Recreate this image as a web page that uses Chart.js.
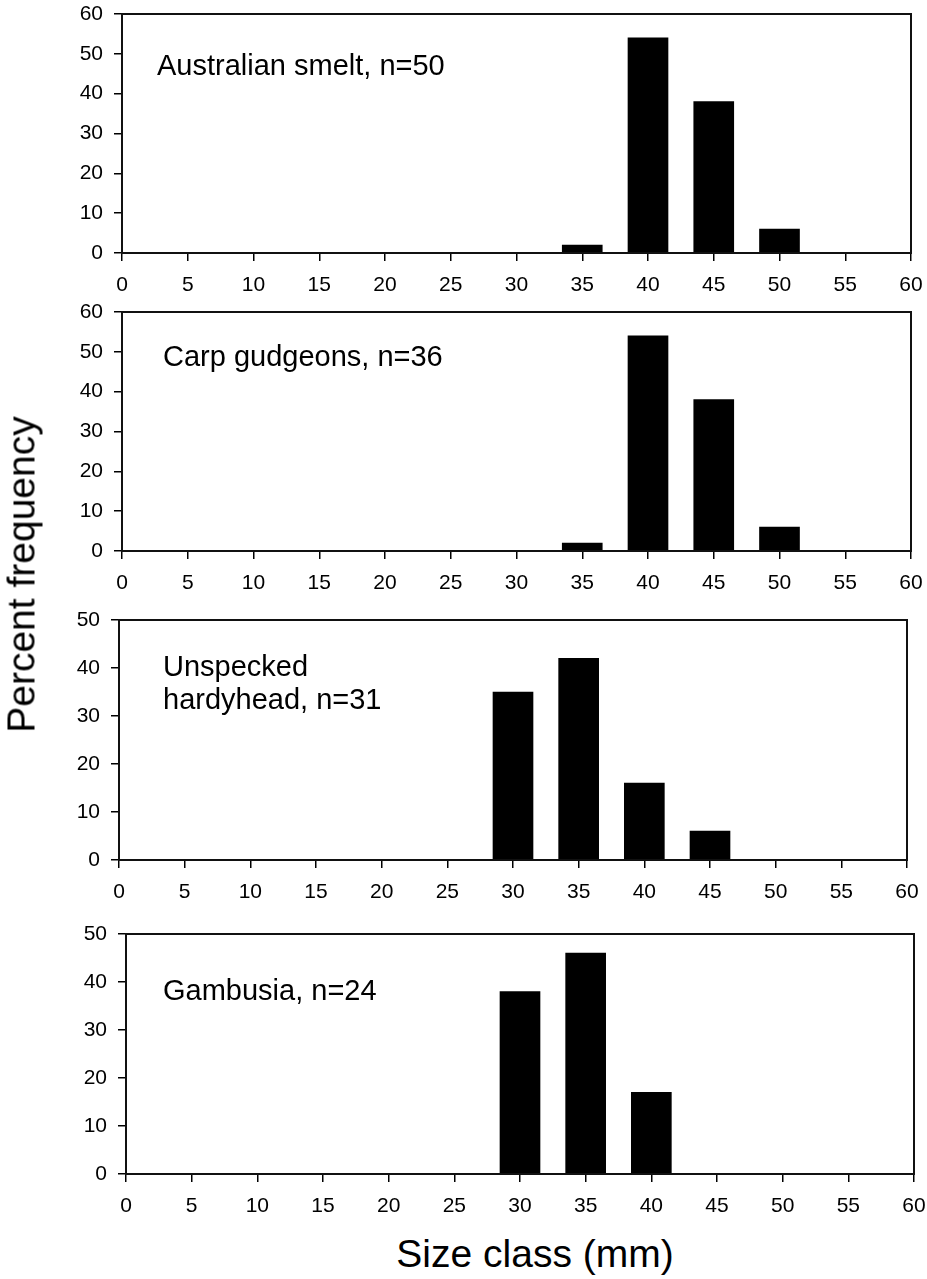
<!DOCTYPE html>
<html>
<head>
<meta charset="utf-8">
<script src="https://cdn.jsdelivr.net/npm/chart.js@4.4.1/dist/chart.umd.min.js"></script>
<style>
  body { margin: 0; background: #fff; width: 927px; height: 1279px; position: relative; overflow: hidden;
         font-family: "Liberation Sans", Arial, sans-serif; }
  canvas { position: absolute; left: 0; }
  .axis-title { position: absolute; font-size: 39px; line-height: 39px; color: #000; white-space: nowrap; text-align: center; }
  #ytitle { left: -179px; top: 555px; width: 400px; transform: rotate(-90deg); }
  #xtitle { left: 335px; top: 1234px; width: 400px; }
</style>
</head>
<body>
<canvas id="c0"></canvas>
<canvas id="c1"></canvas>
<canvas id="c2"></canvas>
<canvas id="c3"></canvas>
<div class="axis-title" id="ytitle">Percent frequency</div>
<div class="axis-title" id="xtitle">Size class (mm)</div>
<script>
// size classes (mm) and percent frequency per species
const sizeClasses = [0, 5, 10, 15, 20, 25, 30, 35, 40, 45, 50, 55, 60];
const smelt        = [0, 0, 0, 0, 0, 0, 0, 2, 54, 38, 6, 0, 0];
const carpGudgeons = [0, 0, 0, 0, 0, 0, 0, 2, 54, 38, 6, 0, 0];
const hardyhead    = [0, 0, 0, 0, 0, 0, 35, 42, 16, 6, 0, 0, 0];
const gambusia     = [0, 0, 0, 0, 0, 0, 38, 46, 17, 0, 0, 0, 0];

const seriesList = [smelt, carpGudgeons, hardyhead, gambusia];
const yMax = [60, 60, 50, 50];
const panelLabels = [
  ["Australian smelt, n=50"],
  ["Carp gudgeons, n=36"],
  ["Unspecked", "hardyhead, n=31"],
  ["Gambusia, n=24"]
];

// where each plot box sits on the page
const boxes = [
  { left: 122, right: 911, top: 14,  bottom: 253,  textX: 35, textY: [61] },
  { left: 122, right: 911, top: 312, bottom: 551,  textX: 41, textY: [54] },
  { left: 119, right: 907, top: 620, bottom: 860,  textX: 44, textY: [56, 89] },
  { left: 126, right: 914, top: 934, bottom: 1174, textX: 37, textY: [66] }
];

const FONT = "'Liberation Sans', Arial, sans-serif";
const Y_AXIS_W = 60;
const X_AXIS_H = 50;
const PAD_TOP = 20;
const PAD_BOTTOM = 5;

const framePlugin = {
  id: "frame",
  afterDraw(chart, args, opts) {
    const { ctx, chartArea: a } = chart;
    ctx.save();
    ctx.strokeStyle = "#111";
    ctx.lineWidth = 2;
    ctx.strokeRect(a.left, a.top, a.right - a.left, a.bottom - a.top);
    ctx.fillStyle = "#000";
    ctx.font = "29px " + FONT;
    ctx.textBaseline = "alphabetic";
    opts.lines.forEach((line, i) => {
      ctx.fillText(line, a.left + opts.x, a.top + opts.y[i]);
    });
    ctx.restore();
  }
};

boxes.forEach((b, i) => {
  const canvas = document.getElementById("c" + i);
  const h = (b.bottom - b.top) + PAD_TOP + X_AXIS_H + PAD_BOTTOM;
  canvas.width = 927;
  canvas.height = h;
  canvas.style.top = (b.top - PAD_TOP) + "px";

  new Chart(canvas, {
    type: "bar",
    data: {
      datasets: [{
        data: sizeClasses.map((c, k) => ({ x: c, y: seriesList[i][k] })),
        backgroundColor: "#000",
        borderWidth: 0,
        barThickness: 40
      }]
    },
    options: {
      responsive: false,
      animation: false,
      events: [],
      layout: {
        padding: { left: b.left - Y_AXIS_W, right: 927 - b.right, top: PAD_TOP, bottom: PAD_BOTTOM }
      },
      plugins: {
        legend: { display: false },
        tooltip: { enabled: false },
        frame: { lines: panelLabels[i], x: b.textX, y: b.textY }
      },
      scales: {
        x: {
          type: "linear",
          min: 0,
          max: 60,
          offset: false,
          afterFit: s => { s.height = X_AXIS_H; s.paddingLeft = 0; s.paddingRight = 0; },
          ticks: { stepSize: 5, color: "#000", padding: 12, maxRotation: 0, autoSkip: false,
                   font: { family: FONT, size: 21 } },
          grid: { drawOnChartArea: false, drawTicks: true, tickLength: 8, color: "#000", lineWidth: 1.5, offset: false },
          border: { display: true, color: "#000", width: 2 }
        },
        y: {
          min: 0,
          max: yMax[i],
          afterFit: s => { s.width = Y_AXIS_W; s.paddingTop = 0; s.paddingBottom = 0; },
          ticks: { stepSize: 10, color: "#000", padding: 11, font: { family: FONT, size: 21 } },
          grid: { drawOnChartArea: false, drawTicks: true, tickLength: 8, color: "#000", lineWidth: 1.5 },
          border: { display: true, color: "#000", width: 2 }
        }
      }
    },
    plugins: [framePlugin]
  });
});
</script>
</body>
</html>
